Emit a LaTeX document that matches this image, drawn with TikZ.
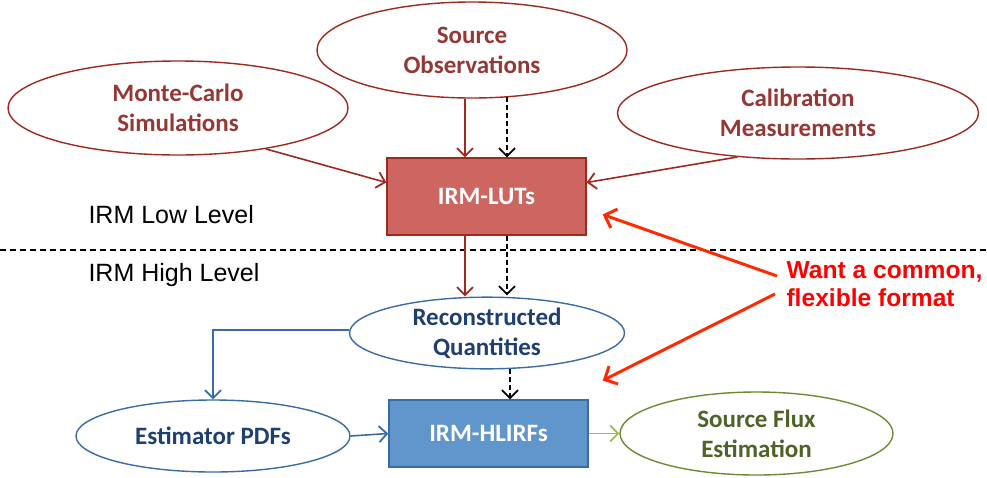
\documentclass[tikz,border=0pt]{standalone}
\usepackage{fontspec}
\setmainfont{Carlito}
\newfontfamily\arialfont{Liberation Sans}
\usetikzlibrary{shapes.geometric,arrows.meta,calc}
\definecolor{rfill}{HTML}{CD6660}
\definecolor{rline}{HTML}{9C2A1E}
\definecolor{rtext}{HTML}{953735}
\definecolor{bfill}{HTML}{6096CB}
\definecolor{bline}{HTML}{3A6CA3}
\definecolor{btext}{HTML}{1F3F6F}
\definecolor{gline}{HTML}{6E8A36}
\definecolor{gtext}{HTML}{4F6228}
\definecolor{garrow}{HTML}{9BBB59}
\definecolor{callred}{HTML}{FF2A00}
\tikzset{
  lbl/.style={font=\bfseries\fontsize{25}{30}\selectfont, align=center},
  ell/.style={ellipse, draw, line width=1.4pt, inner sep=0pt, fill=white, lbl},
  redell/.style={ell, draw=rline, text=rtext},
  blueell/.style={ell, draw=bline, text=btext},
  greenell/.style={ell, draw=gline, text=gtext},
  boxnode/.style={rectangle, line width=1.4pt, inner sep=0pt, text=white, lbl},
  tip/.style={-{Straight Barb[length=8pt,width=16pt,line width=1.8pt]}},
  redarr/.style={tip, draw=rline, line width=1.6pt},
  blarr/.style={tip, draw=bline, line width=1.6pt},
  grarr/.style={tip, draw=garrow, line width=1.8pt},
  darr/.style={tip, draw=black, line width=1.3pt, dash pattern=on 5pt off 3pt},
  callarr/.style={-{Straight Barb[length=10pt,width=20pt,line width=3pt]}, draw=callred, line width=3pt},
  sidelbl/.style={font=\arialfont\fontsize{25}{28}\selectfont, anchor=west}
}
\begin{document}
\begin{tikzpicture}[x=1pt,y=-1pt]
\useasboundingbox (0,0) rectangle (987,477);
\fill[white] (0,0) rectangle (987,477);

% nodes
\node[redell, minimum width=340pt, minimum height=94pt] (mc) at (178,108) {Monte-Carlo\\Simulations};
\node[redell, minimum width=310pt, minimum height=96pt] (so) at (472,50) {Source\\Observations};
\node[redell, minimum width=361pt, minimum height=92pt] (cal) at (798,113) {Calibration\\Measurements};
\node[boxnode, draw=rline, fill=rfill, minimum width=199pt, minimum height=77pt] (luts) at (486.5,196.5) {IRM-LUTs};
\node[blueell, minimum width=275pt, minimum height=66pt] (reco) at (487,333) {Reconstructed\\Quantities};
\node[blueell, minimum width=274pt, minimum height=72pt] (est) at (213,436) {Estimator PDFs};
\node[boxnode, draw=bline, fill=bfill, minimum width=199pt, minimum height=67pt] (hl) at (488.5,433.5) {IRM-HLIRFs};
\node[greenell, minimum width=273pt, minimum height=83pt] (sf) at (756.5,433.5) {Source Flux\\Estimation};

\node[sidelbl] (low) at (85,215) {IRM Low Level};
\node[sidelbl] (high) at (85,275) {IRM High Level};

\node[font=\arialfont\bfseries\fontsize{24.6}{28}\selectfont, text=red, align=left, anchor=west] (call) at (783,284) {Want a common,\\flexible format};

% separator
\coordinate (sepL) at (0,250);
\coordinate (sepR) at (987,250);
\draw[black, line width=1.2pt, dash pattern=on 6pt off 4pt] (sepL) -- (sepR);

% helper coordinates
\coordinate (l1) at ($(luts.north)+(-21.5,0)$);
\coordinate (l2) at ($(luts.north)+(20.5,0)$);
\coordinate (l3) at ($(hl.north)+(21.5,0)$);
\coordinate (mcend) at ($(luts.west)+(0,-14)$);
\coordinate (calend) at ($(luts.east)+(0,-14)$);

% connectors
\draw[redarr] (mc.-25) -- (mcend);
\draw[redarr] (cal.-144) -- (calend);
\draw[redarr] (so.south -| l1) -- (l1);
\draw[darr] ($(so.south -| l2)+(0,-2)$) -- (l2);
\draw[redarr] (luts.south -| l1) -- (reco.north -| l1);
\draw[darr] (luts.south -| l2) -- ($(reco.north -| l2)+(0,-1)$);
\draw[darr] ($(reco.south -| l3)+(0,-1)$) -- (l3);
\draw[blarr] ($(reco.west)+(0,-3)$) -| (est.north);
\draw[blarr] (est.east) -- (hl.west);
\draw[grarr] (hl.east) -- (sf.west);

% callout arrows
\coordinate (c1s) at ($(call.west)+(-6,-8)$);
\coordinate (c2s) at ($(call.west)+(-8,10)$);
\coordinate (c1e) at ($(luts.east)+(16,18)$);
\coordinate (c2e) at ($(hl.east)+(14,-53)$);
\draw[callarr] (c1s) -- (c1e);
\draw[callarr] (c2s) -- (c2e);
\end{tikzpicture}
\end{document}
